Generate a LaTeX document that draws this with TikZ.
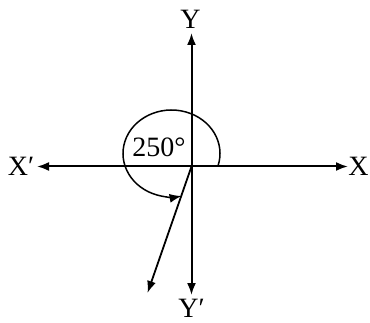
\documentclass[tikz,border=0pt]{standalone}
\usepackage{fontspec}
\setmainfont{Liberation Serif}
\usetikzlibrary{arrows.meta}
\tikzset{
    axis/.style={line width=2pt, <->},
    ray/.style={line width=1.8pt, ->},
    lbl/.style={font=\fontsize{28}{32}\selectfont, inner sep=0pt}
}
\begin{document}
\begin{tikzpicture}[x=1pt, y=1pt, >={Latex[length=12pt,width=9pt]}]
        \useasboundingbox (0,0) rectangle (370,322);
        % Origin and axis ends
        \coordinate (O) at (191.5,155.5);
        \coordinate (xpos) at (348,155.5);
        \coordinate (xneg) at (37,155.5);
        \coordinate (ypos) at (191.5,289);
        \coordinate (yneg) at (191.5,27);
        \coordinate (tip) at (147.5,29);
        \coordinate (ctr) at (171.5,168.5);

        % Axes
        \draw[axis] (xneg) -- (xpos);
        \draw[axis] (yneg) -- (ypos);

        % Terminal side at 250 degrees
        \draw[ray] (O) -- (tip);

        % Angle arc
        \draw[ray, line width=1.5pt] (ctr) ++(-16.7:48.5 and 43.5)
            arc[start angle=-16.7, end angle=282, x radius=48.5, y radius=43.5];

        % Axis labels
        \node[lbl] (X) at (358.5,155.5) {X};
        \node[lbl] (Xm) at (21,155.5) {X′};
        \node[lbl] (Y) at (190.5,303) {Y};
        \node[lbl] (Ym) at (191.5,14) {Y′};
        \node[lbl] (ang) at (159,175) {250°};
    \end{tikzpicture}
\end{document}
